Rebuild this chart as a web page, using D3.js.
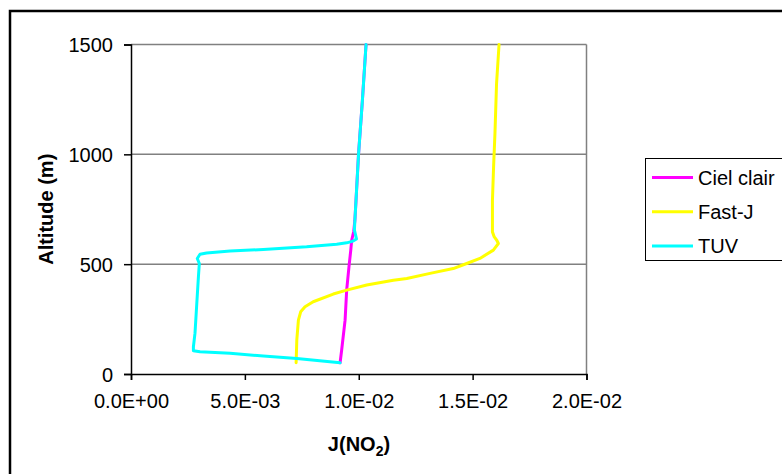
<!DOCTYPE html>
<html><head><meta charset="utf-8">
<script src="https://cdn.jsdelivr.net/npm/d3@7"></script>
<style>html,body{margin:0;padding:0;background:#fff;}svg{display:block;}</style>
</head><body>
<script>
// Data (J in s^-1, altitude in m)
const cielAlt = [51, 109, 245, 382, 488, 564, 609, 650, 700, 791, 1000, 1245, 1500];
const cielJ   = [0.00918, 0.00925, 0.00940, 0.00947, 0.00957, 0.00965, 0.00969, 0.00978, 0.00983, 0.00988, 0.00999, 0.01016, 0.01032];

const fastAlt = [51, 155, 245, 283, 306, 329, 364, 382, 405, 427, 435, 458, 480, 503, 526, 564, 594, 609, 624, 647, 791, 942, 1094, 1321, 1500];
const fastJ   = [0.00725, 0.00728, 0.00735, 0.00745, 0.00764, 0.00800, 0.00888, 0.00947, 0.01035, 0.01152, 0.01211, 0.01313, 0.01415, 0.01474, 0.01532, 0.01591, 0.01613, 0.01606, 0.01595, 0.01587, 0.01587, 0.01592, 0.01598, 0.01605, 0.01616];

const tuvAlt = [51, 71, 82, 94, 101, 106, 124, 186, 306, 442, 503, 526, 545, 551, 560, 567, 579, 591, 597, 605, 615, 655, 700, 791, 1000, 1245, 1500];
const tuvJ   = [0.00918, 0.00728, 0.00581, 0.00435, 0.00303, 0.00274, 0.00274, 0.00281, 0.00288, 0.00296, 0.00300, 0.00291, 0.00303, 0.00332, 0.00435, 0.00581, 0.00771, 0.00903, 0.00947, 0.00975, 0.00990, 0.00981, 0.00983, 0.00988, 0.00999, 0.01016, 0.01032];

const seriesNames = ["Ciel clair", "Fast-J", "TUV"];
const seriesColors = ["#ff00ff", "#ffff00", "#00ffff"];
const xTicks = [0, 0.005, 0.01, 0.015, 0.02];
const xTickLabels = ["0.0E+00", "5.0E-03", "1.0E-02", "1.5E-02", "2.0E-02"];
const yTicks = [0, 500, 1000, 1500];

(function () {
const W = 782, H = 474;
const svg = d3.select("body").append("svg").attr("width", W).attr("height", H)
  .style("font-family", "'Liberation Sans', Arial, sans-serif");
svg.append("rect").attr("width", W).attr("height", H).attr("fill", "#fff");
// outer chart border
svg.append("rect").attr("x", 10).attr("y", 11).attr("width", 820).attr("height", 520)
  .attr("fill", "none").attr("stroke", "#000").attr("stroke-width", 2.5);

const pL = 131, pR = 586.5, pT = 44.5, pB = 374;
const x = d3.scaleLinear().domain([0, 0.02]).range([pL, pR]);
const y = d3.scaleLinear().domain([0, 1500]).range([pB, pT]);

// gridlines
svg.append("g").selectAll("line").data(yTicks.filter(d => d > 0)).join("line")
  .attr("x1", pL).attr("x2", pR).attr("y1", d => y(d)).attr("y2", d => y(d))
  .attr("stroke", "#808080").attr("stroke-width", 1.5);
// right plot border
svg.append("line").attr("x1", pR).attr("x2", pR).attr("y1", pT).attr("y2", pB)
  .attr("stroke", "#808080").attr("stroke-width", 1.5);

// axes
const xAxis = d3.axisBottom(x).tickValues(xTicks).tickFormat((d, i) => xTickLabels[i]).tickSizeOuter(0).tickSize(6).tickPadding(14);
const gx = svg.append("g").attr("transform", `translate(0,${pB})`).call(xAxis);
const yAxis = d3.axisLeft(y).tickValues(yTicks).tickFormat(d3.format("d")).tickSizeOuter(0).tickSize(7).tickPadding(11);
const gy = svg.append("g").attr("transform", `translate(${pL},0)`).call(yAxis);
[gx, gy].forEach(g => {
  g.select(".domain").attr("stroke", "#000").attr("stroke-width", 1.5);
  g.selectAll(".tick line").attr("stroke", "#000").attr("stroke-width", 1.5);
  g.selectAll(".tick text").attr("fill", "#000").style("font-size", "20px")
    .style("font-family", "'Liberation Sans', Arial, sans-serif");
});
gx.selectAll(".tick text").attr("dy", "0.71em");
gy.selectAll(".tick text").attr("dy", "0.35em");

// series
const line = d3.line().x(d => x(d[0])).y(d => y(d[1]));
const series = [
  d3.zip(cielJ, cielAlt),
  d3.zip(fastJ, fastAlt),
  d3.zip(tuvJ, tuvAlt)
];
series.forEach((s, i) => {
  svg.append("path").datum(s).attr("d", line).attr("fill", "none")
    .attr("stroke", seriesColors[i]).attr("stroke-width", 3)
    .attr("stroke-linejoin", "round").attr("stroke-linecap", "round");
});

// axis titles
svg.append("text").attr("transform", `translate(53,${(pB + pT) / 2}) rotate(-90)`)
  .attr("text-anchor", "middle").style("font-size", "20px").style("font-weight", "bold")
  .text("Altitude (m)");
const xt = svg.append("text").attr("x", 359).attr("y", 451).attr("text-anchor", "middle")
  .style("font-size", "20px").style("font-weight", "bold");
xt.append("tspan").text("J(NO");
xt.append("tspan").attr("dy", 5).style("font-size", "14px").text("2");
xt.append("tspan").attr("dy", -5).text(")");

// legend
svg.append("rect").attr("x", 645.5).attr("y", 158.5).attr("width", 200).attr("height", 102)
  .attr("fill", "#fff").attr("stroke", "#000").attr("stroke-width", 1);
const lg = svg.append("g").selectAll("g").data(seriesNames).join("g")
  .attr("transform", (d, i) => `translate(0,${177.5 + i * 34.3})`);
lg.append("line").attr("x1", 652).attr("x2", 693).attr("y1", 0).attr("y2", 0)
  .attr("stroke", (d, i) => seriesColors[i]).attr("stroke-width", 3);
lg.append("text").attr("x", 698).attr("y", 0).attr("dy", "0.36em").style("font-size", "20px")
  .text(d => d);
})();
</script>
</body></html>
